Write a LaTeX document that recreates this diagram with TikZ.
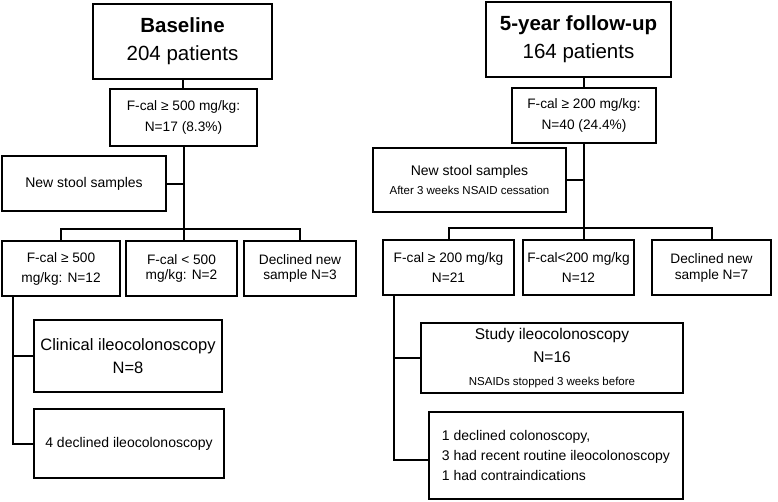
\documentclass[tikz,border=0pt]{standalone}
\usepackage{fontspec}
\setmainfont{Liberation Sans}
\newcommand\myfs[2]{\fontsize{#1}{#2}\selectfont}
\begin{document}
\begin{tikzpicture}[x=1pt,y=-1pt,
  box/.style={draw,line width=2pt,inner sep=0pt,align=center},
  link/.style={line width=2pt}]
\useasboundingbox (0,0) rectangle (778,501);
% ---------- left: baseline ----------
\node[box,minimum width=179,minimum height=75,font=\myfs{20.5}{28}] (base) at (182.5,41.5) {\bfseries Baseline\\204 patients};
\node[box,minimum width=147,minimum height=57,font=\myfs{13.7}{21}] (fcalL) at (183.5,117.5) {F-cal ≥ 500 mg/kg:\\N=17 (8.3\%)};
\node[box,minimum width=164,minimum height=55,font=\myfs{14}{18}] (nsL) at (84,183.5) {New stool samples};
\node[box,minimum width=118,minimum height=55,font=\myfs{13.7}{20}] (r1L) at (61,268.5) {F-cal ≥ 500\\mg/kg: N=12};
\node[box,minimum width=111,minimum height=55,font=\myfs{13.7}{15.5}] (r2L) at (181.5,268.5) {F-cal < 500\\mg/kg: N=2};
\node[box,minimum width=112,minimum height=55,font=\myfs{13.7}{15.5}] (r3L) at (300,268.5) {Declined new\\sample N=3};
\node[box,minimum width=188,minimum height=72,font=\myfs{16.5}{23}] (c8) at (128,356) {Clinical ileocolonoscopy\\N=8};
\node[box,minimum width=190,minimum height=69,font=\myfs{14}{18}] (d4) at (129,443.5) {4 declined ileocolonoscopy};
% connectors left
\draw[link] (base.south) -- (base.south |- fcalL.north);
\draw[link] (fcalL.south) -- (fcalL.south |- r2L.north);
\draw[link] (nsL.east) -- (nsL.east -| fcalL.south);
\draw[link] (r1L.north) -- ++(0,-11) coordinate (busL) -| (r3L.north);
\coordinate (vL) at ([xshift=12pt]r1L.south west);
\draw[link] (vL) |- (d4.west);
\draw[link] (c8.west) -- (c8.west -| vL);
% ---------- right: follow-up ----------
\node[box,minimum width=185,minimum height=75,font=\myfs{20.5}{28}] (fu) at (578.5,39.5) {\bfseries 5-year follow-up\\164 patients};
\node[box,minimum width=144,minimum height=55,font=\myfs{13.7}{21}] (fcalR) at (584,115.5) {F-cal ≥ 200 mg/kg:\\N=40 (24.4\%)};
\node[box,minimum width=193,minimum height=64,font=\myfs{14}{19}] (nsR) at (469.5,180) {New stool samples\\\myfs{11.5}{19}After 3 weeks NSAID cessation};
\node[box,minimum width=131,minimum height=55,font=\myfs{13.7}{20}] (r1R) at (448.5,267.5) {F-cal ≥ 200 mg/kg\\N=21};
\node[box,minimum width=111,minimum height=55,font=\myfs{13.7}{20}] (r2R) at (578.5,267.5) {F-cal<200 mg/kg\\N=12};
\node[box,minimum width=119,minimum height=55,font=\myfs{13.7}{16}] (r3R) at (711.5,267.5) {Declined new\\sample N=7};
\node[box,minimum width=262,minimum height=70,font=\myfs{15.5}{23}] (study) at (552,358) {Study ileocolonoscopy\\N=16\\\myfs{11.5}{22}NSAIDs stopped 3 weeks before};
\node[box,minimum width=254,minimum height=87,align=left,font=\myfs{14}{20}] (dR) at (556,455.5) {1 declined colonoscopy,\\3 had recent routine ileocolonoscopy\\1 had contraindications};
% connectors right
\draw[link] (fcalR.north) -- (fcalR.north |- fu.south);
\draw[link] (fcalR.south) -- (fcalR.south |- r2R.north);
\draw[link] (nsR.east) -- (nsR.east -| fcalR.south);
\draw[link] (r1R.north) -- ++(0,-11) coordinate (busR) -| (r3R.north);
\coordinate (vR) at ([xshift=12pt]r1R.south west);
\draw[link] (vR) |- ([yshift=-4.5pt]dR.west);
\draw[link] (study.west) -- (study.west -| vR);
\end{tikzpicture}
\end{document}
